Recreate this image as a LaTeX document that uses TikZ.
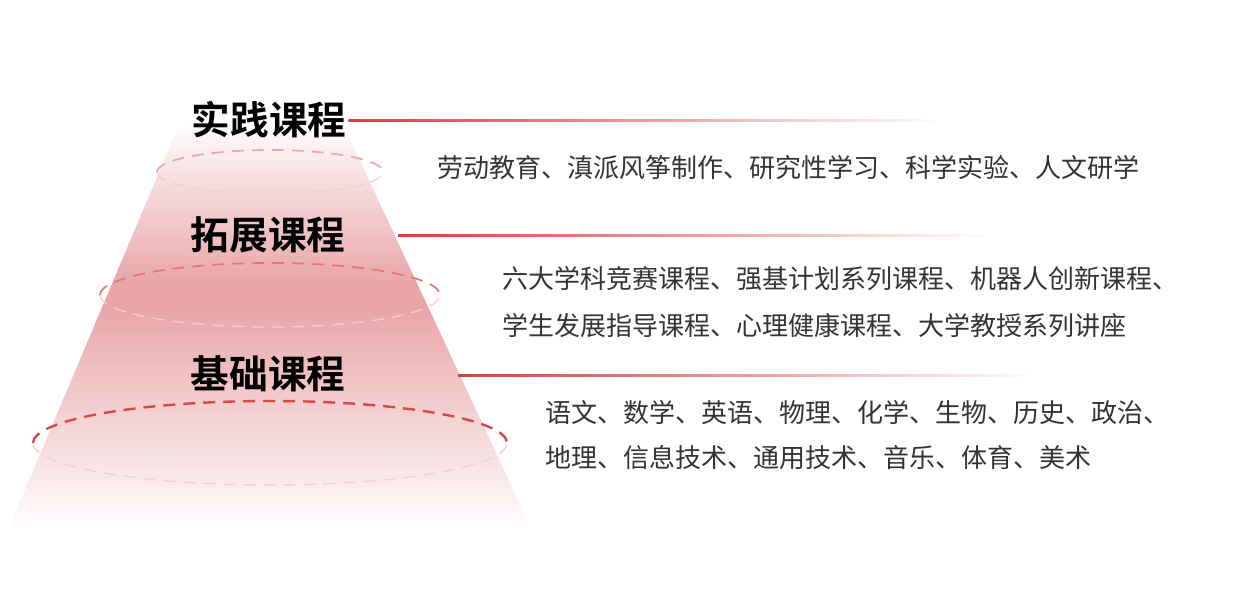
\documentclass[tikz,border=0pt]{standalone}
\usepackage{fontspec}
\setmainfont{Noto Sans CJK SC}
\newfontfamily\titlefont{Noto Sans CJK SC}[BoldFont={* Bold}]
\usepackage{tikz}
\definecolor{pyred}{RGB}{214,62,62}
\definecolor{pypink}{RGB}{233,165,167}
\tikzset{
  tiername/.style={inner sep=0pt,font=\titlefont\bfseries\fontsize{29}{32}\selectfont},
  itemtext/.style={anchor=west,inner sep=0pt,text=black!80,font=\fontsize{19.5}{22}\selectfont},
  ringtop/.style={dashed,dash pattern=on 9pt off 6pt,line width=1.3pt},
  ringbot/.style={dashed,dash pattern=on 9pt off 6pt,line width=1pt,draw=pyred!25},
}
\begin{document}
\begin{tikzpicture}[x=0.75pt,y=0.75pt,yscale=-1,xscale=1]
\useasboundingbox (0,0) rectangle (1239,610);

%pyramid body, built from thin bands
\begin{scope}
  \clip (182,118) -- (340,118) -- (532,530) -- (8,530) -- cycle;
  \foreach \y in {118,124,...,530}{
    \pgfmathsetmacro{\amt}{\y<290 ? (\y-118)/172*100 : (530-\y)/240*100}
    \pgfmathsetmacro{\amt}{min(100,\amt*1.05)}
    \fill [pypink!\amt!white] (0,\y) rectangle (560,\y+6.6);
  }
\end{scope}

%rings
\draw [ringtop,draw=pyred!45] (157,172) arc (180:360:113 and 22);
\draw [ringbot] (157,172) arc (180:0:113 and 22);
\draw [ringtop,draw=pyred!70] (100,295) arc (180:360:170 and 32);
\draw [ringbot] (100,295) arc (180:0:170 and 32);
\draw [ringtop,draw=pyred!95,line width=1.8pt] (33,443) arc (180:360:237 and 42);
\draw [ringbot] (33,443) arc (180:0:237 and 42);

% Text Node
\node [tiername] (shijian) at (269,120) {实践课程};
\node [tiername] (tuozhan) at (268,235) {拓展课程};
\node [tiername] (jichu) at (268,374) {基础课程};

%leader lines
\coordinate (shijianEnd) at (950,120);
\coordinate (tuozhanEnd) at (995,235);
\coordinate (jichuEnd) at (1040,375);
\shade [left color=pyred,right color=white] (shijian.east) ++(2,-0.8) rectangle ([yshift=0.8]shijianEnd);
\shade [left color=pyred,right color=white] (398,234.2) rectangle ([yshift=0.8]tuozhanEnd);
\shade [left color=pyred,right color=white] (458,374.2) rectangle ([yshift=0.8]jichuEnd);

% Text Node
\node [itemtext] (shijianA) at (437,167) {劳动教育、滇派风筝制作、研究性学习、科学实验、人文研学};
\node [itemtext] (tuozhanA) at (502,279) {六大学科竞赛课程、强基计划系列课程、机器人创新课程、};
\node [itemtext] (tuozhanB) at (502,326) {学生发展指导课程、心理健康课程、大学教授系列讲座};
\node [itemtext] (jichuA) at (545,413) {语文、数学、英语、物理、化学、生物、历史、政治、};
\node [itemtext] (jichuB) at (545,458) {地理、信息技术、通用技术、音乐、体育、美术};
\end{tikzpicture}
\end{document}
